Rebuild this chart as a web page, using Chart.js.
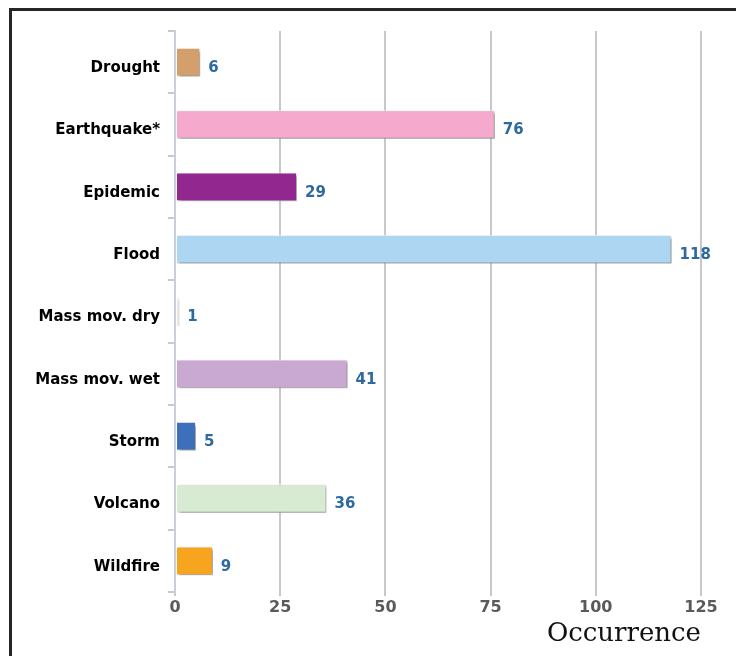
<!DOCTYPE html>
<html>
<head>
<meta charset="utf-8">
<script src="https://cdn.jsdelivr.net/npm/chart.js@4.4.1/dist/chart.umd.min.js"></script>
<style>
  html, body { margin: 0; padding: 0; background: #fff; }
  #wrap { position: relative; width: 736px; height: 656px; overflow: hidden; }
  #frame { position: absolute; left: 9px; top: 8px; width: 800px; height: 700px;
           border-left: 3px solid #262626; border-top: 3px solid #262626; pointer-events: none; }
  canvas { position: absolute; left: 0; top: 0; }
</style>
</head>
<body>
<div id="wrap">
  <canvas id="chart" width="736" height="656"></canvas>
  <div id="frame"></div>
</div>
<script>
// dữ liệu
const categories = ['Drought', 'Earthquake*', 'Epidemic', 'Flood', 'Mass mov. dry',
                    'Mass mov. wet', 'Storm', 'Volcano', 'Wildfire'];
const occurrences = [6, 76, 29, 118, 1, 41, 5, 36, 9];
const barColors = ['#d3a06c', '#f5a9cc', '#932790', '#acd6f1', '#ececec',
                   '#c9a9d2', '#3e6fbb', '#d6ebd1', '#f7a51f'];
const xTicks = [0, 25, 50, 75, 100, 125];
const axisTitle = 'Occurrence';

// bóng đổ nhẹ cho các cột
const barShadow = {
  id: 'barShadow',
  beforeDatasetDraw(chart) {
    const ctx = chart.ctx;
    ctx.save();
    ctx.shadowColor = 'rgba(0,0,0,0.45)';
    ctx.shadowBlur = 3;
    ctx.shadowOffsetX = 2;
    ctx.shadowOffsetY = 2;
  },
  afterDatasetDraw(chart) {
    chart.ctx.restore();
  }
};

// số liệu bên phải mỗi cột (hơi lệch xuống như hình gốc)
const barValueLabels = {
  id: 'barValueLabels',
  afterDatasetsDraw(chart) {
    const ctx = chart.ctx;
    const meta = chart.getDatasetMeta(0);
    meta.data.forEach((bar, i) => {
      ctx.save();
      ctx.fillStyle = '#2d6a9f';
      ctx.font = 'bold 15px "DejaVu Sans", sans-serif';
      ctx.textAlign = 'left';
      ctx.textBaseline = 'middle';
      ctx.fillText(String(occurrences[i]), bar.x + 8, bar.y + 6);
      ctx.restore();
    });
  }
};

new Chart(document.getElementById('chart'), {
  type: 'bar',
  data: {
    labels: categories,
    datasets: [{
      data: occurrences,
      backgroundColor: barColors,
      borderColor: '#ffffff',
      borderWidth: 1,
      borderSkipped: false,
      barPercentage: 0.46,
      categoryPercentage: 1
    }]
  },
  options: {
    indexAxis: 'y',
    responsive: false,
    animation: false,
    layout: { padding: { top: 31, right: 35, left: 0, bottom: 0 } },
    plugins: { legend: { display: false }, tooltip: { enabled: false } },
    scales: {
      x: {
        min: 0,
        max: 125,
        afterBuildTicks: s => { s.ticks = xTicks.map(v => ({ value: v })); },
        afterFit: s => { s.height = 64; },
        grid: { color: '#c8c8c8', lineWidth: 2, drawTicks: true, tickLength: 4 },
        border: { display: false },
        ticks: {
          padding: 2,
          color: '#5a5a5a',
          font: { family: 'DejaVu Sans', size: 16, weight: 'bold' }
        },
        title: {
          display: true,
          text: axisTitle,
          align: 'end',
          color: '#111',
          font: { family: 'DejaVu Serif', size: 26 },
          padding: { top: 0, bottom: 6 }
        }
      },
      y: {
        afterFit: s => { s.width = 175; },
        grid: { drawOnChartArea: false, drawTicks: true, tickLength: 7, color: '#c3cad6', lineWidth: 2 },
        border: { display: true, color: '#c8cfda', width: 2 },
        ticks: {
          padding: 8,
          labelOffset: 6,
          color: '#000',
          font: { family: 'DejaVu Sans', size: 15, weight: 'bold' }
        }
      }
    }
  },
  plugins: [barShadow, barValueLabels]
});
</script>
</body>
</html>
